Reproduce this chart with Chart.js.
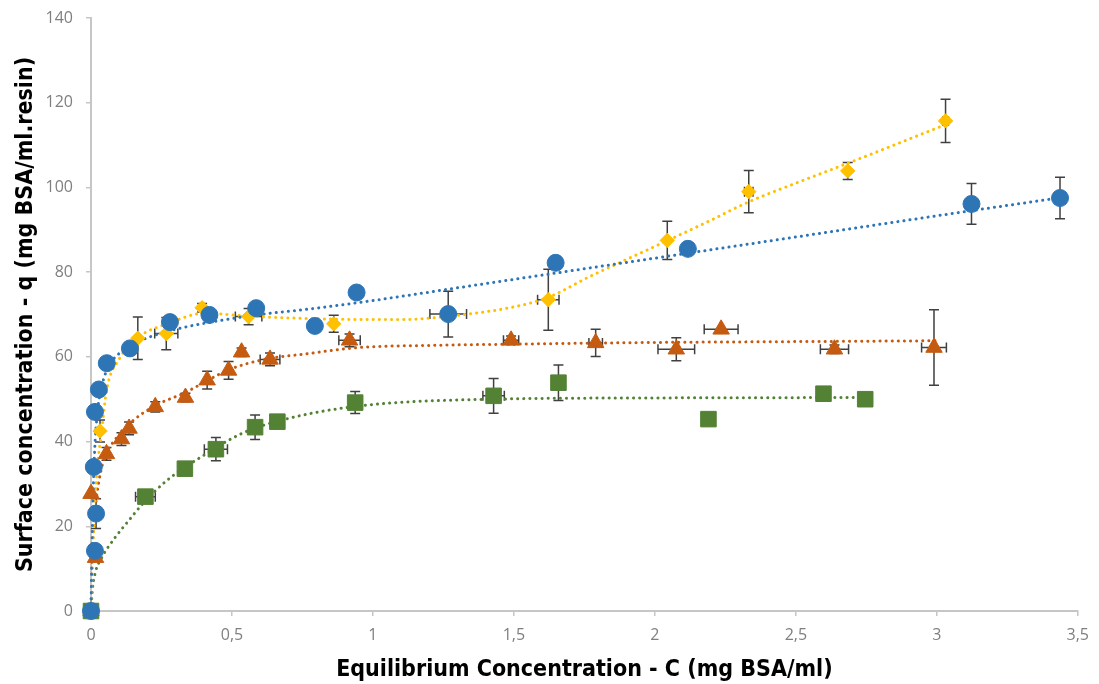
<!DOCTYPE html>
<html>
<head>
<meta charset="utf-8">
<script src="https://cdn.jsdelivr.net/npm/chart.js@4"></script>
<style>
  html, body { margin: 0; padding: 0; background: #fff; }
  #wrap { width: 1099px; height: 684px; }
</style>
</head>
<body>
<div id="wrap"><canvas id="chart" width="1099" height="684"></canvas></div>
<script>
// axis ticks and titles
const xTicks = [0, 0.5, 1, 1.5, 2, 2.5, 3, 3.5]
const yTicks = [0, 20, 40, 60, 80, 100, 120, 140]
const xTitle = 'Equilibrium Concentration - C (mg BSA/ml)'
const yTitle = 'Surface concentration - q (mg BSA/ml.resin)'

// blue circles
const blueX = [0, 0.014, 0.018, 0.010, 0.014, 0.028, 0.056, 0.138, 0.28, 0.42, 0.586, 0.794, 0.942, 1.267, 1.648, 2.117, 3.123, 3.437]
const blueY = [0, 14.2, 23.0, 34.0, 47.0, 52.3, 58.5, 62.0, 68.2, 69.9, 71.5, 67.3, 75.2, 70.1, 82.2, 85.5, 96.1, 97.5]
const blueXErr = [0, 0, 0, 0, 0, 0, 0, 0, 0, 0, 0, 0, 0, 0.065, 0, 0, 0, 0]
const blueYErr = [0, 0, 3.5, 0, 0, 0, 0, 0, 0, 0, 0, 0, 0, 5.4, 1.5, 1.0, 4.8, 4.9]

// yellow diamonds
const yellowX = [0, 0.032, 0.166, 0.267, 0.394, 0.559, 0.861, 1.622, 2.044, 2.333, 2.684, 3.031]
const yellowY = [0, 42.5, 64.4, 65.5, 71.6, 69.5, 67.8, 73.5, 87.5, 99.0, 103.9, 115.7]
const yellowXErr = [0, 0, 0, 0.041, 0, 0.047, 0, 0.038, 0, 0.015, 0, 0.01]
const yellowYErr = [0, 2.6, 5.0, 3.8, 1.0, 1.9, 2.0, 7.2, 4.5, 5.0, 2.0, 5.1]

// orange triangles
const orangeX = [0, 0, 0.016, 0.055, 0.108, 0.135, 0.228, 0.335, 0.412, 0.488, 0.534, 0.635, 0.917, 1.49, 1.79, 2.076, 2.235, 2.637, 2.99]
const orangeY = [0, 27.7, 12.6, 37.1, 40.6, 43.1, 48.2, 50.4, 54.5, 56.8, 61.1, 59.4, 63.9, 63.9, 63.3, 61.8, 66.5, 61.8, 62.2]
const orangeXErr = [0, 0, 0, 0, 0, 0, 0, 0, 0, 0, 0, 0.035, 0.038, 0.027, 0.024, 0.065, 0.06, 0.05, 0.044]
const orangeYErr = [0, 0, 0, 1.5, 1.5, 1.5, 1.2, 1.0, 2.1, 2.1, 1.0, 1.5, 1.5, 1.0, 3.2, 2.7, 0, 1.0, 8.9]

// green squares
const greenX = [0, 0.193, 0.333, 0.443, 0.582, 0.661, 0.937, 1.428, 1.658, 2.19, 2.598, 2.746]
const greenY = [0, 27.0, 33.6, 38.2, 43.4, 44.7, 49.2, 50.8, 53.9, 45.3, 51.3, 50.0]
const greenXErr = [0, 0.035, 0, 0.041, 0, 0, 0, 0.038, 0, 0, 0, 0]
const greenYErr = [0, 0, 0, 2.75, 2.9, 1.5, 2.6, 4.1, 4.2, 1.0, 1.0, 0]

// dotted trend lines
const blueTrendX = [0, 0.005, 0.01, 0.02, 0.04, 0.07, 0.1, 0.15, 0.2, 0.3, 0.45, 0.6, 0.8, 1.0, 1.3, 1.65, 2.0, 2.5, 3.0, 3.44]
const blueTrendY = [0, 20, 33, 45, 53.5, 58.5, 60.8, 63, 64.5, 66.5, 68.5, 70, 71.5, 73.3, 76.3, 79.8, 83.3, 88.3, 93.3, 97.6]
const yellowTrendX = [0, 0.01, 0.02, 0.038, 0.055, 0.1, 0.165, 0.28, 0.4, 0.56, 0.86, 1.1, 1.27, 1.5, 1.62, 1.77, 1.88, 2.04, 2.2, 2.33, 2.5, 2.68, 3.03]
const yellowTrendY = [0, 20, 32, 42.5, 52, 59.5, 64.5, 68, 70.3, 69.6, 68.9, 68.8, 69.6, 71.8, 74, 79, 82.4, 87.3, 92.3, 96.5, 101, 105.6, 114.8]
const orangeTrendX = [0, 0.005, 0.01, 0.02, 0.035, 0.055, 0.08, 0.108, 0.15, 0.228, 0.335, 0.41, 0.49, 0.63, 0.75, 0.95, 1.2, 1.5, 2.0, 2.5, 3.0]
const orangeTrendY = [0, 14, 20, 27, 33, 37.3, 40, 42.2, 45, 48.5, 51.6, 54.3, 57, 59.6, 60.6, 62.2, 62.7, 63, 63.4, 63.6, 63.8]
const greenTrendX = [0, 0.005, 0.015, 0.038, 0.085, 0.132, 0.182, 0.267, 0.396, 0.538, 0.69, 0.95, 1.42, 2.0, 2.75]
const greenTrendY = [0, 5, 9, 12.6, 17.3, 21.2, 25.2, 30.7, 36.6, 42, 45.3, 48.4, 50, 50.3, 50.4]

const BLUE = '#2E75B6'
const YELLOW = '#FFC000'
const ORANGE = '#C55A11'
const GREEN = '#548235'
const AXIS = '#c6c6c6'

function pts(xs, ys) {
    return xs.map((x, i) => ({ x: x, y: ys[i] }))
}

function markerSet(xs, ys, xErr, yErr, color, style, radius) {
    return {
        data: pts(xs, ys),
        errX: xErr,
        errY: yErr,
        showLine: false,
        clip: false,
        pointStyle: style,
        pointRadius: radius,
        pointHoverRadius: radius,
        backgroundColor: color,
        borderColor: color,
        pointBorderWidth: 1
    }
}

function trendSet(xs, ys, color) {
    return {
        data: pts(xs, ys),
        showLine: true,
        clip: false,
        pointRadius: 0,
        borderColor: color,
        borderWidth: 3,
        borderDash: [0.1, 6],
        borderCapStyle: 'round',
        cubicInterpolationMode: 'monotone',
        fill: false
    }
}

// x/y error bars, drawn under the markers
const errorBars = {
    id: 'errorBars',
    beforeDatasetsDraw: function (chart) {
        const ctx = chart.ctx
        const xs = chart.scales.x
        const ys = chart.scales.y
        const cap = 5
        ctx.save()
        ctx.strokeStyle = '#404040'
        ctx.lineWidth = 1.5
        chart.data.datasets.forEach(function (ds) {
            if (!ds.errX) return
            ds.data.forEach(function (p, i) {
                const px = xs.getPixelForValue(p.x)
                const py = ys.getPixelForValue(p.y)
                const ey = ds.errY[i]
                const ex = ds.errX[i]
                ctx.beginPath()
                if (ey > 0) {
                    const top = ys.getPixelForValue(p.y + ey)
                    const bot = ys.getPixelForValue(p.y - ey)
                    ctx.moveTo(px, top); ctx.lineTo(px, bot)
                    ctx.moveTo(px - cap, top); ctx.lineTo(px + cap, top)
                    ctx.moveTo(px - cap, bot); ctx.lineTo(px + cap, bot)
                }
                if (ex > 0) {
                    const l = xs.getPixelForValue(p.x - ex)
                    const r = xs.getPixelForValue(p.x + ex)
                    ctx.moveTo(l, py); ctx.lineTo(r, py)
                    ctx.moveTo(l, py - cap); ctx.lineTo(l, py + cap)
                    ctx.moveTo(r, py - cap); ctx.lineTo(r, py + cap)
                }
                ctx.stroke()
            })
        })
        ctx.restore()
    }
}

// axis titles, centred on the plot area
const axisTitles = {
    id: 'axisTitles',
    afterDraw: function (chart) {
        const ctx = chart.ctx
        const area = chart.chartArea
        ctx.save()
        ctx.fillStyle = '#000'
        ctx.font = 'bold 23px "DejaVu Sans Condensed", "DejaVu Sans", sans-serif'
        ctx.textAlign = 'center'
        ctx.textBaseline = 'alphabetic'
        ctx.fillText(xTitle, (area.left + area.right) / 2, 676)
        ctx.translate(32, (area.top + area.bottom) / 2)
        ctx.rotate(-Math.PI / 2)
        ctx.fillText(yTitle, 0, 0)
        ctx.restore()
    }
}

const tickFont = { family: '"Open Sans", sans-serif', size: 16 }

new Chart(document.getElementById('chart'), {
    type: 'scatter',
    data: {
        datasets: [
            markerSet(blueX, blueY, blueXErr, blueYErr, BLUE, 'circle', 8.5),
            markerSet(yellowX, yellowY, yellowXErr, yellowYErr, YELLOW, 'rectRot', 7.2),
            markerSet(orangeX, orangeY, orangeXErr, orangeYErr, ORANGE, 'triangle', 9.5),
            markerSet(greenX, greenY, greenXErr, greenYErr, GREEN, 'rect', 11),
            trendSet(blueTrendX, blueTrendY, BLUE),
            trendSet(yellowTrendX, yellowTrendY, YELLOW),
            trendSet(orangeTrendX, orangeTrendY, ORANGE),
            trendSet(greenTrendX, greenTrendY, GREEN)
        ]
    },
    options: {
        responsive: false,
        animation: false,
        layout: { padding: { top: 18, right: 18, left: 0, bottom: 0 } },
        plugins: {
            legend: { display: false },
            tooltip: { enabled: false }
        },
        scales: {
            x: {
                type: 'linear',
                min: 0,
                max: 3.5,
                afterFit: function (scale) { scale.height = 73 },
                afterBuildTicks: function (scale) { scale.ticks = xTicks.map(v => ({ value: v })) },
                ticks: {
                    font: tickFont,
                    color: '#7f7f7f',
                    padding: 10,
                    maxRotation: 0,
                    callback: v => String(v).replace('.', ',')
                },
                grid: { drawOnChartArea: false, color: AXIS, tickLength: 5, lineWidth: 1.5 },
                border: { color: AXIS, width: 2 }
            },
            y: {
                type: 'linear',
                min: 0,
                max: 140,
                afterFit: function (scale) {
                    scale.width = 91
                    scale.paddingTop = 0
                    scale.paddingBottom = 0
                },
                afterBuildTicks: function (scale) { scale.ticks = yTicks.map(v => ({ value: v })) },
                ticks: {
                    font: tickFont,
                    color: '#7f7f7f',
                    padding: 13
                },
                grid: { drawOnChartArea: false, color: AXIS, tickLength: 5, lineWidth: 1.5 },
                border: { color: AXIS, width: 2 }
            }
        }
    },
    plugins: [errorBars, axisTitles]
});
</script>
</body>
</html>
